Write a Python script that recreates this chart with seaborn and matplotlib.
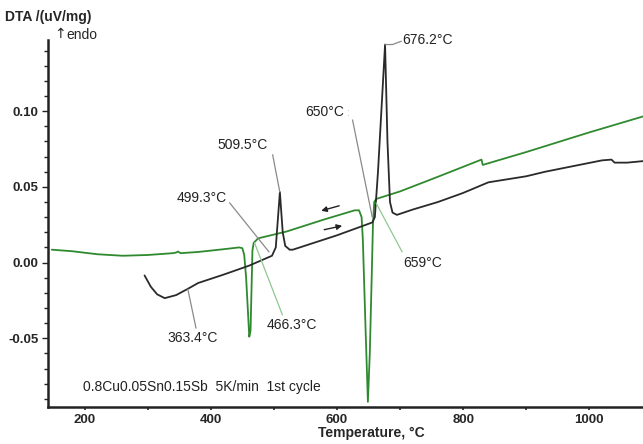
import matplotlib
matplotlib.use("Agg")
import matplotlib.pyplot as plt
import seaborn as sns
import pandas as pd

# ---- data ----
cool_T = [148, 180, 220, 260, 300, 340, 345, 348, 352, 380, 420, 445, 450, 453, 456,
          461, 463, 465, 466, 468, 475, 520, 580, 628, 635, 639, 641, 645, 649, 652,
          655, 657, 659, 662, 700, 762, 829, 831, 900, 1000, 1085]
cool_v = [0.0085, 0.0075, 0.0055, 0.0045, 0.0050, 0.0062, 0.0066, 0.0073, 0.0062, 0.0070,
          0.0088, 0.0100, 0.0095, 0.0050, -0.0100, -0.0490, -0.0450, -0.0100, 0.0080, 0.0130,
          0.0160, 0.0205, 0.0285, 0.0345, 0.0345, 0.0300, 0.0150, -0.0400, -0.0920, -0.0600,
          -0.0100, 0.0250, 0.0400, 0.0420, 0.0470, 0.0570, 0.0680, 0.0645, 0.0730, 0.0860, 0.0965]

heat_T = [295, 305, 315, 327, 345, 363, 380, 420, 461, 497, 503, 509.5, 514, 518, 525,
          530, 600, 656, 660, 665, 676.2, 680, 684, 688, 695, 720, 760, 800, 840, 870,
          900, 930, 960, 990, 1020, 1035, 1040, 1060, 1085]
heat_v = [-0.0085, -0.0160, -0.0210, -0.0235, -0.0215, -0.0175, -0.0135, -0.0080, -0.0020,
          0.0045, 0.0100, 0.0465, 0.0200, 0.0110, 0.0085, 0.0085, 0.0180, 0.0265, 0.0300,
          0.0600, 0.1440, 0.0800, 0.0400, 0.0330, 0.0315, 0.0350, 0.0400, 0.0460, 0.0530,
          0.0550, 0.0570, 0.0600, 0.0625, 0.0650, 0.0675, 0.0680, 0.0660, 0.0660, 0.0670]

x_ticks = [200, 400, 600, 800, 1000]
y_ticks = [-0.05, 0.00, 0.05, 0.10]
y_tick_labels = ["-0.05", "0.00", "0.05", "0.10"]

GREEN = "#2f8a2f"
BLACK = "#2a2a2a"
LGREEN = "#8fc88f"
GRAY = "#8a8a8a"

sns.set_theme(style="white")
plt.rcParams["font.family"] = ["Liberation Sans", "DejaVu Sans"]
plt.rcParams["axes.unicode_minus"] = False

fig = plt.figure(figsize=(6.43, 4.44), dpi=100)
ax = fig.add_axes([48 / 643, 1 - 407 / 444, (643 - 48) / 643, (407 - 40) / 444])

cool = pd.DataFrame({"T": cool_T, "v": cool_v})
heat = pd.DataFrame({"T": heat_T, "v": heat_v})
sns.lineplot(data=cool, x="T", y="v", sort=False, estimator=None, color=GREEN, lw=1.3, ax=ax)
sns.lineplot(data=heat, x="T", y="v", sort=False, estimator=None, color=BLACK, lw=1.3, ax=ax)

ax.set_xlim(142, 1085)
ax.set_ylim(-0.0954, 0.147)

for s in ["top", "right"]:
    ax.spines[s].set_visible(False)
for s in ["left", "bottom"]:
    ax.spines[s].set_color("#222222")
    ax.spines[s].set_linewidth(1.8)

ax.set_xticks(x_ticks)
ax.set_xticklabels([str(t) for t in x_ticks], fontweight="bold", fontsize=9.5)
ax.set_xticks([300, 500, 700, 900], minor=True)
ax.set_yticks(y_ticks)
ax.set_yticklabels(y_tick_labels, fontweight="bold", fontsize=9.5)
ax.set_yticks([v / 100 for v in range(-9, 15) if v % 5 != 0], minor=True)
ax.tick_params(axis="x", which="both", direction="out", length=2, width=1.2, color="#222222",
               pad=3, bottom=True)
ax.tick_params(axis="y", which="major", direction="out", length=4, width=1, color="#222222",
               pad=3, left=True)
ax.tick_params(axis="y", which="minor", direction="out", length=3, width=1, color="#222222",
               left=True)

ax.set_xlabel("Temperature, °C", fontweight="bold", fontsize=10)
ax.xaxis.set_label_coords((371 - 48) / 595, -0.052)
ax.set_ylabel("")
fig.text(5 / 643, 1 - 17 / 444, "DTA /(uV/mg)", fontweight="bold", fontsize=10, va="center", ha="left")
fig.text(54 / 643, 1 - 34 / 444, "↑", fontsize=10, va="center", ha="left", family="DejaVu Sans")
fig.text(66 / 643, 1 - 35 / 444, "endo", fontsize=10, va="center", ha="left")

# leader lines
def leader(p, q, c):
    ax.plot([p[0], q[0]], [p[1], q[1]], color=c, lw=0.9, solid_capstyle="butt")

leader((497.9, 0.0715), (509.5, 0.0463), GRAY)
leader((429.4, 0.0397), (492.7, 0.0068), GRAY)
ax.plot([676.2, 688, 702], [0.1440, 0.1440, 0.1462], color=GRAY, lw=0.9)
leader((624.5, 0.0945), (656, 0.0298), GRAY)
leader((661.5, 0.0397), (703.6, 0.0068), LGREEN)
leader((469, 0.0134), (513.8, -0.0349), LGREEN)
leader((363.5, -0.0173), (376.7, -0.0436), GRAY)

tk = dict(fontsize=10, color="#222222")
ax.text(450, 0.0775, "509.5°C", ha="center", va="center", **tk)
ax.text(385, 0.0428, "499.3°C", ha="center", va="center", **tk)
ax.text(744, 0.1468, "676.2°C", ha="center", va="center", **tk)
ax.text(611, 0.0993, "650°C", ha="right", va="center", **tk)
ax.text(618, 0.0985, ":", ha="center", va="center", fontsize=8, color="#bbbbbb")
ax.text(735, 0.0000, "659°C", ha="center", va="center", **tk)
ax.text(529, -0.0414, "466.3°C", ha="center", va="center", **tk)
ax.text(371, -0.0500, "363.4°C", ha="center", va="center", **tk)
ax.text(197, -0.0822, "0.8Cu0.05Sn0.15Sb  5K/min  1st cycle", ha="left", va="center",
        fontsize=10, color="#222222")

# direction arrows
ap = dict(arrowstyle="-|>", color="#222222", lw=1, mutation_scale=8, shrinkA=0, shrinkB=0)
ax.annotate("", xy=(575, 0.0342), xytext=(603.5, 0.0375), arrowprops=ap)
ax.annotate("", xy=(608.2, 0.0243), xytext=(579.7, 0.0217), arrowprops=ap)

fig.savefig("out.png", dpi=100)
